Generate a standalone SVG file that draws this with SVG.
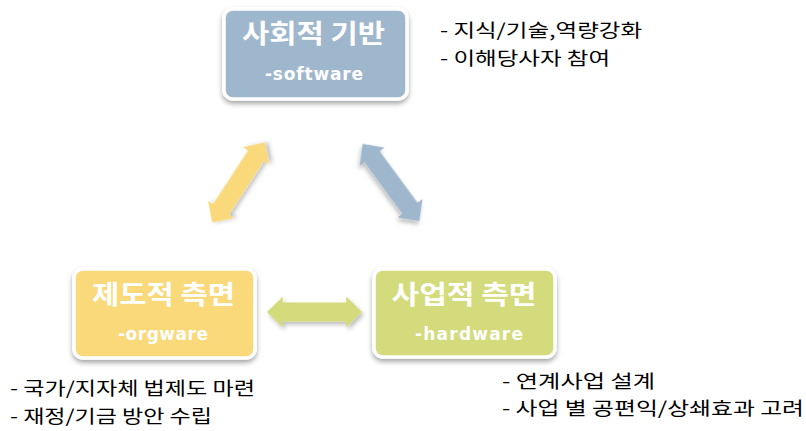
<svg xmlns="http://www.w3.org/2000/svg" width="806" height="431" viewBox="0 0 806 431">
<defs>
<filter id="sh" x="-20%" y="-20%" width="140%" height="150%">
<feDropShadow dx="0" dy="3" stdDeviation="2.5" flood-color="#000" flood-opacity="0.35"/>
</filter>
<filter id="ash" x="-30%" y="-30%" width="160%" height="160%">
<feDropShadow dx="2" dy="3" stdDeviation="2" flood-color="#000" flood-opacity="0.25"/>
</filter>
<polygon id="arr" points="-48,0 -32,-15.5 -32,-9.5 32,-9.5 32,-15.5 48,0 32,15.5 32,9.5 -32,9.5 -32,15.5"/>
</defs>
<style>
.box{stroke:#fff;stroke-width:3.5;filter:url(#sh)}
.title{font-family:"Noto Sans CJK KR","Liberation Sans",sans-serif;font-weight:bold;font-size:26px;fill:#fff;text-anchor:middle}
.sub{font-family:"DejaVu Sans","Liberation Sans",sans-serif;font-weight:bold;font-size:17px;fill:#fff;text-anchor:middle}
.body{font-family:"Noto Sans CJK KR","Liberation Sans",sans-serif;font-size:18px;fill:#000}
</style>
<rect width="806" height="431" fill="#fff"/>
<g id="connectors">
<use href="#arr" fill="#FAD97A" filter="url(#ash)" transform="translate(238.5,182.5) rotate(-56.8)"/>
<use href="#arr" fill="#9FB7CD" filter="url(#ash)" transform="translate(391,182.5) rotate(53.7)"/>
<use href="#arr" fill="#D3DB7B" filter="url(#ash)" transform="translate(314.5,312) scale(0.99,1)"/>
</g>
<g id="node-top">
<rect class="box" x="224" y="9" width="183" height="90" rx="9" fill="#9FB7CD"/>
<text class="title" x="313.5" y="43" textLength="143" lengthAdjust="spacingAndGlyphs">사회적 기반</text>
<text class="sub" x="314" y="80" textLength="98" lengthAdjust="spacing">-software</text>
</g>
<g id="node-left">
<rect class="box" x="74" y="269" width="181" height="89" rx="9" fill="#FAD97A"/>
<text class="title" x="163.5" y="304" textLength="143" lengthAdjust="spacingAndGlyphs">제도적 측면</text>
<text class="sub" x="163" y="340" textLength="90" lengthAdjust="spacing">-orgware</text>
</g>
<g id="node-right">
<rect class="box" x="374" y="269" width="181" height="88" rx="9" fill="#D3DB7B"/>
<text class="title" x="464" y="304" textLength="145" lengthAdjust="spacingAndGlyphs">사업적 측면</text>
<text class="sub" x="469" y="340" textLength="108" lengthAdjust="spacing">-hardware</text>
</g>
<g id="notes">
<text class="body" x="440" y="37" textLength="202" lengthAdjust="spacingAndGlyphs">- 지식/기술,역량강화</text>
<text class="body" x="440" y="65" textLength="170" lengthAdjust="spacingAndGlyphs">- 이해당사자 참여</text>
<text class="body" x="10" y="395" textLength="245" lengthAdjust="spacingAndGlyphs">- 국가/지자체 법제도 마련</text>
<text class="body" x="10" y="423" textLength="202" lengthAdjust="spacingAndGlyphs">- 재정/기금 방안 수립</text>
<text class="body" x="502" y="388" textLength="153" lengthAdjust="spacingAndGlyphs">- 연계사업 설계</text>
<text class="body" x="502" y="415" textLength="302" lengthAdjust="spacingAndGlyphs">- 사업 별 공편익/상쇄효과 고려</text>
</g>
</svg>
